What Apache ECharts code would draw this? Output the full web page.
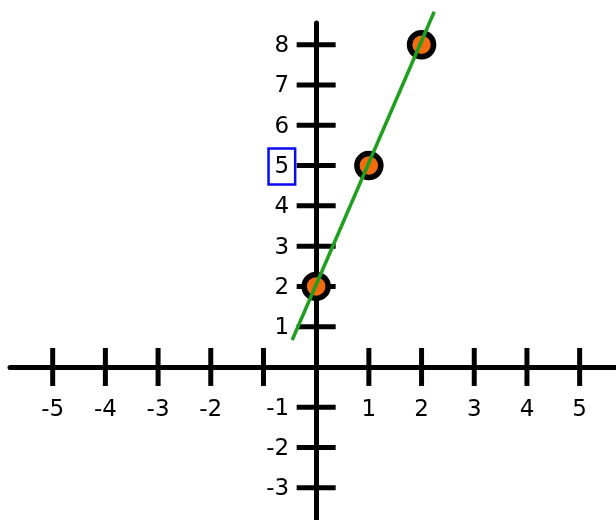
<!DOCTYPE html>
<html>
<head>
<meta charset="utf-8">
<script src="https://cdn.jsdelivr.net/npm/echarts@6/dist/echarts.min.js"></script>
<style>
  html, body { margin: 0; padding: 0; background: #fff; }
  #chart { width: 616px; height: 520px; }
</style>
</head>
<body>
<div id="chart"></div>
<script>
// tick positions and labels
const xTicks = [-5, -4, -3, -2, -1, 1, 2, 3, 4, 5]
const xLabels = [-5, -4, -3, -2, 1, 2, 3, 4, 5] // -1 is shared with the y axis label
const yTicks = [-3, -2, -1, 1, 2, 3, 4, 5, 6, 7, 8]
const yLabels = [-3, -2, -1, 1, 2, 3, 4, 5, 6, 7, 8]
const boxedLabel = 5

// plotted points
const pointX = [0, 1, 2]
const pointY = [2, 5, 8]

// fitted line, end points
const lineX = [-0.455, 2.24]
const lineY = [0.67, 8.82]

const labelFont = { fontFamily: 'DejaVu Sans', fontSize: 23, color: '#000' }

const axisBase = {
  type: 'value',
  axisLine: { onZero: true, lineStyle: { color: '#000', width: 5 } },
  axisTick: { show: false },
  splitLine: { show: false },
  axisLabel: { show: false }
}

const option = {
  animation: false,
  grid: { left: 10, right: 0, top: 23, bottom: 0, outerBoundsMode: 'none' },
  xAxis: Object.assign({ min: -5.81, max: 5.69 }, axisBase),
  yAxis: Object.assign({ min: -3.8, max: 8.54 }, axisBase),
  series: [
    {
      // tick marks crossing the x axis
      type: 'scatter',
      silent: true,
      symbol: 'rect',
      symbolSize: [5, 38],
      itemStyle: { color: '#000', opacity: 1 },
      z: 1,
      data: xTicks.map(v => [v, 0])
    },
    {
      // tick marks crossing the y axis
      type: 'scatter',
      silent: true,
      symbol: 'rect',
      symbolSize: [39, 5],
      itemStyle: { color: '#000', opacity: 1 },
      z: 1,
      data: yTicks.map(v => [0, v])
    },
    {
      // x axis numbers
      type: 'scatter',
      silent: true,
      symbolSize: 1,
      itemStyle: { color: 'transparent', opacity: 1 },
      label: Object.assign({
        show: true,
        position: 'inside',
        offset: [0, 43],
        formatter: p => String(p.value[0])
      }, labelFont),
      data: xLabels.map(v => [v, 0])
    },
    {
      // y axis numbers, one of them boxed
      type: 'scatter',
      silent: true,
      symbolSize: 1,
      itemStyle: { color: 'transparent', opacity: 1 },
      label: Object.assign({
        show: true,
        position: 'inside',
        align: 'right',
        offset: [-21, 1],
        formatter: p => (p.value[1] === boxedLabel ? '{b|' : '{n|') + p.value[1] + '}',
        rich: {
          n: Object.assign({ padding: [5, 6, 4, 6], lineHeight: 27 }, labelFont),
          b: Object.assign({
            padding: [7, 6, 6, 6],
            lineHeight: 27,
            borderColor: '#0a0aee',
            borderWidth: 2.5
          }, labelFont)
        }
      }, labelFont),
      data: yLabels.map(v => [0, v])
    },
    {
      type: 'scatter',
      silent: true,
      symbol: 'circle',
      symbolSize: 24,
      itemStyle: { color: '#f36c10', borderColor: '#000', borderWidth: 5.5, opacity: 1 },
      z: 3,
      data: pointX.map((x, i) => [x, pointY[i]])
    },
    {
      type: 'line',
      silent: true,
      symbol: 'none',
      clip: false,
      lineStyle: { color: '#1f9e1f', width: 3.5 },
      z: 4,
      data: lineX.map((x, i) => [x, lineY[i]])
    }
  ]
}

const myChart = echarts.init(document.getElementById('chart'))
myChart.setOption(option)
</script>
</body>
</html>
